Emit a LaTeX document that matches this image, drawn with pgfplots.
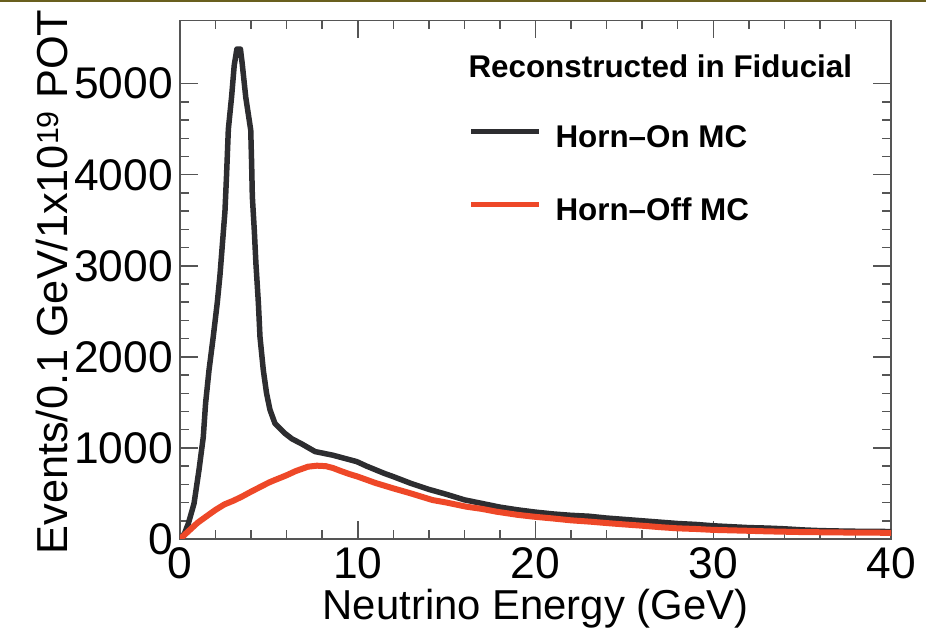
\documentclass[border=0pt]{standalone}
\usepackage{fontspec}
\setmainfont{Liberation Sans}
\usepackage{pgfplots}
\pgfplotsset{compat=1.18}
\definecolor{hornon}{RGB}{45,45,48}
\definecolor{hornoff}{RGB}{238,72,40}
\definecolor{axisgray}{RGB}{85,85,85}
\definecolor{topline}{RGB}{105,95,30}
\begin{document}
\begin{tikzpicture}[x=1bp,y=1bp]
\begin{axis}[
  at={(0,0)}, anchor=south west,
  width=711bp, height=518.6bp, scale only axis,
  xmin=0, xmax=40, ymin=0, ymax=5695,
  xtick={0,10,20,30,40}, ytick={0,1000,2000,3000,4000,5000},
  minor x tick num=4, minor y tick num=4,
  tick align=inside, major tick length=18bp, minor tick length=9bp,
  axis line style={axisgray, line width=1.5bp},
  every tick/.style={axisgray, line width=1.5bp},
  /pgf/number format/assume math mode=true,
  /pgf/number format/set thousands separator={},
  ticklabel style={font=\fontsize{44.5}{48}\selectfont},
  yticklabel style={inner sep=0pt, xshift=-7bp},
  xticklabel style={inner sep=0pt, yshift=-8bp},
  xlabel={Neutrino Energy (GeV)},
  ylabel={Events/0.1 GeV/1x10\textsuperscript{19} POT},
  xlabel style={font=\fontsize{42}{48}\selectfont, at={(axis description cs:0.5,-0.1556)}, anchor=base, inner sep=0pt},
  ylabel style={font=\fontsize{43.5}{48}\selectfont, at={(axis description cs:-0.1585,-0.0303)}, anchor=base west, inner sep=0pt},
  legend style={at={(axis cs:16.22,4550)}, anchor=north west, draw=none, fill=none,
    inner sep=0pt, row sep=50bp, column sep=14bp,
    font=\bfseries\fontsize{31.5}{36}\selectfont,
    nodes={inner sep=0pt, text height=23bp, text depth=0pt}},
  legend cell align=left,
  legend image code/.code={\draw[#1, line width=5bp, line cap=butt] (0bp,5bp) -- (68bp,5bp);},
  clip=true,
]
\addplot[hornon, line width=5.5bp, line join=round] coordinates {
(0,0) (0.25,60) (0.47,170) (0.79,390) (1.07,760) (1.31,1120) (1.44,1490) (1.63,1850)
(1.87,2220) (2.1,2600) (2.25,2900) (2.37,3200) (2.53,3600) (2.62,4000) (2.72,4500)
(2.9,4850) (3.05,5200) (3.2,5380) (3.4,5380) (3.5,5220) (3.7,4850) (3.98,4490)
(4.03,4120) (4.07,3760) (4.18,3390) (4.27,3030) (4.41,2590) (4.5,2220) (4.69,1850)
(4.87,1600) (5.06,1420) (5.34,1270) (5.9,1160) (6.3,1100) (6.84,1045) (7.6,960)
(8.6,920) (9.94,850) (10.5,800) (11,760) (11.5,720) (12,685) (13,610) (14,545)
(15,490) (16,430) (17,390) (18,350) (19,320) (20,295) (21,275) (22,260) (23,250)
(24,230) (25,215) (26,200) (27,185) (28,170) (29,160) (30,145) (31,135) (32,125)
(33,120) (34,112) (35,100) (36,92) (37,88) (38,85) (39,83) (40,82)
};
\addlegendentry{Horn--On MC}
\addplot[hornoff, line width=6bp, line join=round] coordinates {
(0,0) (0.5,90) (1.0,180) (1.59,263) (2.0,320) (2.5,380) (3.0,420) (3.47,464)
(4.0,520) (4.5,570) (5.0,620) (5.34,648) (6.0,700) (6.5,745) (7.2,794) (7.7,805)
(8.2,800) (8.6,780) (9.0,750) (9.5,715) (10,685) (10.5,650) (11,615) (12,556)
(13,500) (14.2,428) (15,400) (16.1,355) (17,330) (17.8,300) (19,265) (19.9,245)
(21,225) (22,205) (23.1,190) (24,175) (25,160) (26.2,143) (27,130) (28,117)
(29,110) (30,100) (31,95) (32,90) (33,84) (34,80) (35,76) (36,74) (37,72)
(38,70) (39,69) (40,68)
};
\addlegendentry{Horn--Off MC}
\node[anchor=base west, inner sep=0pt, font=\bfseries\fontsize{31.5}{36}\selectfont]
  at (axis cs:16.22,5063) {Reconstructed in Fiducial};
\end{axis}
\pgfresetboundingbox
\path[use as bounding box] (-180,-92) rectangle (746,539);
\draw[topline, line width=2bp] (-180,538) -- (746,538);
\end{tikzpicture}
\end{document}
